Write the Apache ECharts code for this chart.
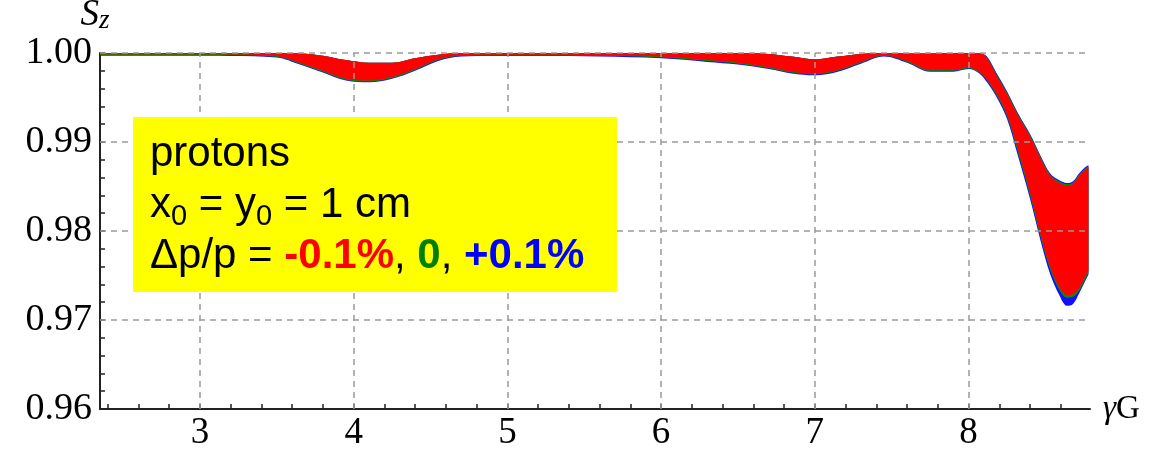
<!DOCTYPE html>
<html>
<head>
<meta charset="utf-8">
<script src="https://cdn.jsdelivr.net/npm/echarts@6/dist/echarts.min.js"></script>
<style>
  html, body { margin: 0; padding: 0; background: #fff; }
  #chart { width: 1164px; height: 449px; }
</style>
</head>
<body>
<div id="chart"></div>
<script>
// Longitudinal spin component S_z versus γG for protons,
// shown as envelopes for three momentum offsets.
const xs = [2.35, 2.6, 2.9, 3.2, 3.5, 3.65, 3.8, 3.95, 4.1, 4.25, 4.4, 4.55, 4.7, 4.9, 5.2, 5.6,
            6.0, 6.3, 6.5, 6.7, 6.85, 7.0, 7.15, 7.3, 7.45, 7.6, 7.75, 7.9, 8.0, 8.07, 8.12, 8.18,
            8.25, 8.32, 8.4, 8.47, 8.53, 8.59, 8.64, 8.68, 8.72, 8.76, 8.78];

// Δp/p = -0.1 %  (red envelope)
const redHi = [1.0000, 1.0000, 1.0000, 1.0000, 1.0000, 0.99995, 0.9997, 0.9992, 0.9989, 0.9989, 0.9994, 0.9998,
               1.0000, 1.0000, 1.0000, 1.0000, 1.0000, 1.0000, 1.0000, 0.9999, 0.9996, 0.9993, 0.9996, 0.9999,
               1.0000, 0.99995, 0.99995, 1.0000, 1.0000, 1.0000, 0.9994, 0.9975, 0.9954, 0.9930, 0.9906, 0.9881,
               0.9862, 0.9854, 0.9851, 0.9853, 0.9862, 0.9869, 0.9871];
const redLo = [0.99985, 0.99985, 0.99985, 0.99982, 0.99965, 0.9989, 0.9980, 0.9971, 0.9969, 0.9973, 0.9982, 0.9993,
               0.99975, 0.9998, 0.9998, 0.99975, 0.9996, 0.9992, 0.9989, 0.9984, 0.9979, 0.9977, 0.9981, 0.9990,
               0.99975, 0.9991, 0.9981, 0.9981, 0.9984, 0.9979, 0.9970, 0.9955, 0.9931, 0.9892, 0.9843, 0.9795,
               0.9760, 0.9737, 0.9728, 0.9729, 0.9736, 0.9749, 0.9756];

// Δp/p = 0  (green envelope)
const greenHi = [1.0000, 1.0000, 1.0000, 1.0000, 1.0000, 0.99995, 0.9997, 0.9992, 0.9989, 0.9989, 0.9994, 0.9998,
                 1.0000, 1.0000, 1.0000, 1.0000, 1.0000, 1.0000, 1.0000, 0.9999, 0.9996, 0.9993, 0.9996, 0.9999,
                 1.0000, 0.99995, 0.99995, 1.0000, 1.0000, 1.0000, 0.9995, 0.99765, 0.99555, 0.99315, 0.99075, 0.98825,
                 0.98635, 0.98555, 0.98525, 0.98545, 0.98635, 0.98705, 0.98725];
const greenLo = [0.99978, 0.99978, 0.99978, 0.99975, 0.99958, 0.9988, 0.9979, 0.9970, 0.9968, 0.9972, 0.9981, 0.9992,
                 0.99968, 0.99972, 0.99972, 0.99968, 0.9995, 0.9991, 0.9988, 0.9983, 0.9978, 0.9976, 0.9980, 0.9989,
                 0.99968, 0.9990, 0.9980, 0.9980, 0.9983, 0.9978, 0.9969, 0.9953, 0.9929, 0.9889, 0.9840, 0.9792,
                 0.9757, 0.9734, 0.9725, 0.9726, 0.9733, 0.9746, 0.9753];

// Δp/p = +0.1 %  (blue envelope)
const blueHi = [1.0000, 1.0000, 1.0000, 1.0000, 1.0000, 0.99995, 0.9997, 0.9992, 0.9989, 0.9989, 0.9994, 0.9998,
                1.0000, 1.0000, 1.0000, 1.0000, 1.0000, 1.0000, 1.0000, 0.9999, 0.9996, 0.9993, 0.9996, 0.9999,
                1.0000, 0.99995, 0.99995, 1.0000, 1.0000, 1.0000, 0.9996, 0.9978, 0.9957, 0.9933, 0.9909, 0.9884,
                0.9865, 0.9857, 0.9854, 0.9856, 0.9865, 0.9872, 0.9874];
const blueLo = [0.9997, 0.9997, 0.9997, 0.99967, 0.9995, 0.9987, 0.9978, 0.9969, 0.9967, 0.9971, 0.9980, 0.9991,
                0.9996, 0.99965, 0.99965, 0.9996, 0.9994, 0.9990, 0.9987, 0.9982, 0.9977, 0.9975, 0.9979, 0.9988,
                0.9996, 0.9989, 0.9979, 0.9979, 0.9982, 0.9977, 0.9967, 0.9951, 0.9926, 0.9885, 0.9836, 0.9788,
                0.9752, 0.9728, 0.9716, 0.9718, 0.9730, 0.9744, 0.9751];

// Axis ticks, labels and grid positions
const xTickValues = [2.4, 2.6, 2.8, 3.0, 3.2, 3.4, 3.6, 3.8, 4.0, 4.2, 4.4, 4.6, 4.8, 5.0, 5.2, 5.4,
                     5.6, 5.8, 6.0, 6.2, 6.4, 6.6, 6.8, 7.0, 7.2, 7.4, 7.6, 7.8, 8.0, 8.2, 8.4, 8.6];
const xLabelValues = [3, 4, 5, 6, 7, 8];
const yTickValues = [0.962, 0.964, 0.966, 0.968, 0.970, 0.972, 0.974, 0.976, 0.978, 0.980,
                     0.982, 0.984, 0.986, 0.988, 0.990, 0.992, 0.994, 0.996, 0.998, 1.000];
const yLabelValues = [0.96, 0.97, 0.98, 0.99, 1.00];
const xGridValues = [3, 4, 5, 6, 7, 8];
const yGridValues = [0.97, 0.98, 0.99, 1.00];

const SERIF = '"Liberation Serif", "Times New Roman", serif';
const SANS = '"Liberation Sans", Arial, sans-serif';

// An envelope is a transparent lower line plus a filled stacked band on top of it.
// Rows are stored as [S_z, γG] so that the stack runs along the S_z dimension.
function envelope(key, lo, hi, color, z) {
  const common = {
    type: 'line', stack: key, z: z, symbol: 'none', smooth: 0.35,
    encode: { x: 1, y: 0 },
    lineStyle: { width: 0, opacity: 0 }
  };
  return [
    Object.assign({}, common, {
      data: xs.map((x, i) => [lo[i], x])
    }),
    Object.assign({}, common, {
      areaStyle: { color: color, opacity: 1 },
      data: xs.map((x, i) => [hi[i] - lo[i], x])
    })
  ];
}

const chart = echarts.init(document.getElementById('chart'), null, { renderer: 'canvas' });

chart.setOption({
  animation: false,
  backgroundColor: '#ffffff',
  grid: { left: 100, right: 74, top: 53, bottom: 40, containLabel: false, outerBoundsMode: 'none' },
  xAxis: {
    type: 'value', min: 2.35, max: 8.79,
    name: '{g|γ}{G|G}',
    nameLocation: 'end', nameGap: 13,
    nameTextStyle: {
      rich: {
        g: { fontFamily: SERIF, fontStyle: 'italic', fontSize: 33, color: '#000' },
        G: { fontFamily: SERIF, fontSize: 33, color: '#000' }
      }
    },
    axisLine: { show: true, onZero: false, lineStyle: { color: '#222', width: 2 } },
    axisTick: { show: true, inside: true, length: 5, customValues: xTickValues,
                lineStyle: { color: '#222', width: 1.5 } },
    axisLabel: { customValues: xLabelValues, margin: 6, fontFamily: SERIF, fontSize: 37, color: '#000',
                 formatter: v => String(v) },
    splitLine: { show: false },
    minorTick: { show: false }
  },
  yAxis: {
    type: 'value', min: 0.96, max: 1.0,
    name: '{s|S}{z|z}',
    nameLocation: 'end', nameGap: 11,
    nameTextStyle: {
      padding: [0, 10, 0, 0],
      rich: {
        s: { fontFamily: SERIF, fontStyle: 'italic', fontSize: 37, lineHeight: 46, verticalAlign: 'bottom', color: '#000' },
        z: { fontFamily: SERIF, fontStyle: 'italic', fontSize: 27, lineHeight: 28, verticalAlign: 'bottom', color: '#000' }
      }
    },
    axisLine: { show: true, onZero: false, lineStyle: { color: '#222', width: 2 } },
    axisTick: { show: true, inside: true, length: 5, customValues: yTickValues,
                lineStyle: { color: '#222', width: 1.5 } },
    axisLabel: { customValues: yLabelValues, margin: 8, fontFamily: SERIF, fontSize: 38, color: '#000',
                 formatter: v => v.toFixed(2) },
    splitLine: { show: false }
  },
  series: [
    {
      // dashed grid drawn beneath the envelopes
      type: 'line', z: 1, data: [], silent: true,
      markLine: {
        silent: true, symbol: ['none', 'none'], label: { show: false },
        lineStyle: { color: '#9a9a9a', type: [6, 5], width: 1.5 },
        data: xGridValues.map(v => ({ xAxis: v })).concat(yGridValues.map(v => ({ yAxis: v })))
      }
    },
    ...envelope('blue', blueLo, blueHi, '#1010ff', 2),
    ...envelope('green', greenLo, greenHi, '#0a8a0a', 3),
    ...envelope('red', redLo, redHi, '#ff0000', 4)
  ],
  graphic: [
    {
      type: 'rect', z: 10,
      shape: { x: 133, y: 117, width: 484, height: 175 },
      style: { fill: '#ffff00' }
    },
    {
      type: 'text', z: 11, x: 150, y: 129,
      style: {
        text: '{t|protons}\n{t|x}{sub|0}{t| = y}{sub|0}{t| = 1 cm}\n{t|Δp/p = }{r|-0.1%}{t|, }{g|0}{t|, }{b|+0.1%}',
        rich: {
          t: { fontFamily: SANS, fontSize: 42, lineHeight: 51, fill: '#000' },
          sub: { fontFamily: SANS, fontSize: 29, lineHeight: 24, verticalAlign: 'bottom', fill: '#000' },
          r: { fontFamily: SANS, fontSize: 42, fontWeight: 'bold', lineHeight: 51, fill: '#ff0000' },
          g: { fontFamily: SANS, fontSize: 42, fontWeight: 'bold', lineHeight: 51, fill: '#008000' },
          b: { fontFamily: SANS, fontSize: 42, fontWeight: 'bold', lineHeight: 51, fill: '#0000ff' }
        }
      }
    }
  ]
});
</script>
</body>
</html>
